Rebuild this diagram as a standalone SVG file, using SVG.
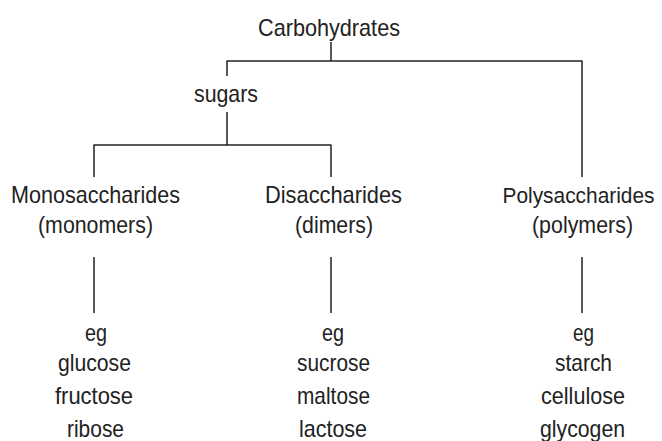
<svg xmlns="http://www.w3.org/2000/svg" width="662" height="441" viewBox="0 0 662 441">
<style>
text{font-family:"Liberation Sans",Arial,sans-serif;font-size:24px;fill:#222;text-anchor:middle}
.c line{stroke:#222;stroke-width:1.5;fill:none}
</style>
<rect width="662" height="441" fill="#fff"/>
<g class="c" id="connectors">
<line x1="331" y1="42" x2="331" y2="61"/>
<line x1="226.5" y1="61" x2="582.5" y2="61"/>
<line x1="227" y1="61" x2="227" y2="76"/>
<line x1="582" y1="61" x2="582" y2="177"/>
<line x1="227" y1="112" x2="227" y2="145"/>
<line x1="93.5" y1="145" x2="331.5" y2="145"/>
<line x1="94" y1="145" x2="94" y2="177"/>
<line x1="331" y1="145" x2="331" y2="177"/>
<line x1="94" y1="257" x2="94" y2="313"/>
<line x1="331" y1="257" x2="331" y2="313"/>
<line x1="582" y1="257" x2="582" y2="313"/>
</g>
<g id="carbohydrates"><text x="329" y="36" textLength="142" lengthAdjust="spacingAndGlyphs">Carbohydrates</text></g>
<g id="sugars"><text x="226" y="101.5" textLength="64" lengthAdjust="spacingAndGlyphs">sugars</text></g>
<g id="monosaccharides">
<text x="95.5" y="203" textLength="169" lengthAdjust="spacingAndGlyphs">Monosaccharides</text>
<text x="95.5" y="232.5" textLength="115" lengthAdjust="spacingAndGlyphs">(monomers)</text>
</g>
<g id="disaccharides">
<text x="333.5" y="203" textLength="137" lengthAdjust="spacingAndGlyphs">Disaccharides</text>
<text x="334" y="232.5" textLength="78" lengthAdjust="spacingAndGlyphs">(dimers)</text>
</g>
<g id="polysaccharides">
<text x="578.5" y="203" style="font-size:22px" textLength="152" lengthAdjust="spacingAndGlyphs">Polysaccharides</text>
<text x="582.5" y="232.5" textLength="101" lengthAdjust="spacingAndGlyphs">(polymers)</text>
</g>
<g id="mono-examples">
<text x="96" y="341" textLength="22" lengthAdjust="spacingAndGlyphs">eg</text>
<text x="94.5" y="371" textLength="73" lengthAdjust="spacingAndGlyphs">glucose</text>
<text x="94" y="404" textLength="78" lengthAdjust="spacingAndGlyphs">fructose</text>
<text x="95.5" y="437" textLength="57" lengthAdjust="spacingAndGlyphs">ribose</text>
</g>
<g id="di-examples">
<text x="333" y="341" textLength="22" lengthAdjust="spacingAndGlyphs">eg</text>
<text x="333.5" y="371" textLength="73" lengthAdjust="spacingAndGlyphs">sucrose</text>
<text x="333.5" y="404" textLength="73" lengthAdjust="spacingAndGlyphs">maltose</text>
<text x="333" y="437" textLength="68" lengthAdjust="spacingAndGlyphs">lactose</text>
</g>
<g id="poly-examples">
<text x="583.5" y="341" textLength="21" lengthAdjust="spacingAndGlyphs">eg</text>
<text x="583.5" y="371" textLength="57" lengthAdjust="spacingAndGlyphs">starch</text>
<text x="583" y="404" textLength="84" lengthAdjust="spacingAndGlyphs">cellulose</text>
<text x="582.5" y="437" textLength="85" lengthAdjust="spacingAndGlyphs">glycogen</text>
</g>
</svg>
